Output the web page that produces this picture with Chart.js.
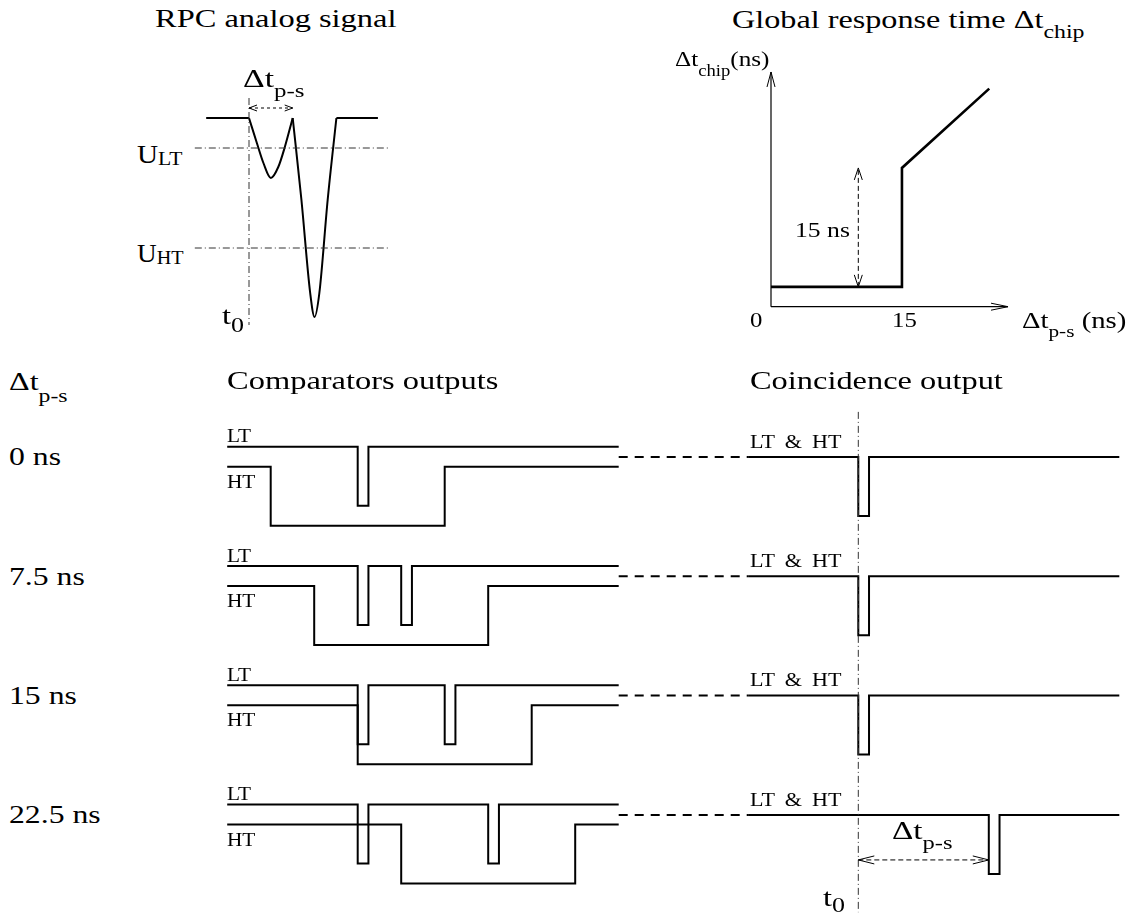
<!DOCTYPE html>
<html lang="en">
<head>
<meta charset="UTF-8">
<title>RPC comparator timing</title>
<script src="https://cdn.jsdelivr.net/npm/chart.js"></script>
<style>
    body { margin: 0; background: #fff; }
    #page { position: relative; width: 1140px; height: 914px; overflow: hidden; background: #fff; }
    #page canvas { position: absolute; }
    .lbl {
        position: absolute;
        white-space: nowrap;
        line-height: 1;
        transform-origin: 0 0;
        font-family: 'Liberation Serif', 'Times New Roman', serif;
        color: #000;
    }
    .lbl .s { font-size: 0.74em; position: relative; }
</style>
</head>
<body>
<div id="page">
    <canvas id="analog" width="220" height="290" style="left:185px; top:55px"></canvas>
    <canvas id="response" width="300" height="270" style="left:735px; top:55px"></canvas>
    <canvas id="timing" width="940" height="514" style="left:200px; top:400px"></canvas>
</div>

<script>
// ---- RPC analog signal (time in ns from t0, amplitude in a.u., pulses negative)
const baselineLeft = [-9.8, 0];
const baselineRight = [20, 29.5];
const primaryT = [0, 1.8, 3.3, 5, 6.7, 8.2, 10];
const primaryAmp = [0, -25, -45, -60, -49, -29, 0];
const secondaryT = [10, 12, 14, 15, 16.1, 18, 20];
const secondaryAmp = [0, -82, -175, -199, -175, -82, 0];
const thresholdLT = -30;
const thresholdHT = -130;
const thresholdSpan = [-12.4, 32.3];
const analogDeltaPS = 10;

// ---- global response time
const respDtPS = [0, 15, 15, 25];
const respDtChip = [2.5, 2.5, 17.5, 27.5];
const respTicks = [0, 15];
const respAxisMax = { x: 27.15, y: 29.6 };
const respStepAt = 10;

// ---- comparator / coincidence outputs, one row per primary-secondary delay
const delayValues = [0, 7.5, 15, 22.5];
const delayLabels = ['0 ns', '7.5 ns', '15 ns', '22.5 ns'];
const ltPulseStarts = [[0], [0, 7.5], [0, 15], [0, 22.5]];
const htLowWindows = [[-15, 15], [-7.5, 22.5], [0, 30], [7.5, 37.5]];
const coincPulseStarts = [[0], [0], [0], [22.5]];
const pulseWidth = 1.85;
const compWindow = [-22.5, 45];
const coincWindow = [-19, 45];

// layout of the bottom panel (in logic-swing units)
const ROW_PITCH = 2.022;
const HT_DROP = 0.339;
const COINC_DROP = 0.175;
const COINC_SHIFT = 86.31;
const DASHDOT = [7, 3, 1, 3];

const page = document.getElementById('page');

// open arrow heads at the ends of marked datasets
const arrowHeads = {
    id: 'arrowHeads',
    afterDatasetsDraw(chart) {
        const ctx = chart.ctx;
        chart.data.datasets.forEach((ds, i) => {
            if (!ds.heads) return;
            const pts = chart.getDatasetMeta(i).data;
            const n = pts.length;
            const L = ds.headLength || 10, W = ds.headWidth || 4;
            const draw = (tip, from) => {
                const dx = tip.x - from.x, dy = tip.y - from.y;
                const len = Math.hypot(dx, dy) || 1;
                const ux = dx / len, uy = dy / len;
                ctx.beginPath();
                ctx.moveTo(tip.x - ux * L - uy * W, tip.y - uy * L + ux * W);
                ctx.lineTo(tip.x, tip.y);
                ctx.lineTo(tip.x - ux * L + uy * W, tip.y - uy * L - ux * W);
                ctx.stroke();
            };
            ctx.save();
            ctx.strokeStyle = '#000';
            ctx.lineWidth = 1;
            ctx.setLineDash([]);
            if (ds.heads.includes('start')) draw(pts[0], pts[1]);
            if (ds.heads.includes('end')) draw(pts[n - 1], pts[n - 2]);
            ctx.restore();
        });
    }
};

function pts(xs, ys) {
    return xs.map((x, i) => ({ x: x, y: ys[i] }));
}

function line(data, extra) {
    return Object.assign({
        data: data,
        showLine: true,
        borderColor: '#000',
        borderWidth: 2,
        pointRadius: 0,
        tension: 0,
        fill: false,
        borderJoinStyle: 'miter',
        borderCapStyle: 'butt'
    }, extra || {});
}

function squareWave(span, lows, high, low) {
    const out = [{ x: span[0], y: high }];
    lows.forEach(w => {
        out.push({ x: w[0], y: high }, { x: w[0], y: low }, { x: w[1], y: low }, { x: w[1], y: high });
    });
    out.push({ x: span[1], y: high });
    return out;
}

// scale range so that value 0 sits at originPx inside a canvas of sizePx
function range(originPx, pxPerUnit, sizePx, up) {
    if (up) return { min: -(sizePx - originPx) / pxPerUnit, max: originPx / pxPerUnit };
    return { min: -originPx / pxPerUnit, max: (sizePx - originPx) / pxPerUnit };
}

function makeChart(id, datasets, xr, yr) {
    return new Chart(document.getElementById(id), {
        type: 'scatter',
        data: { datasets: datasets },
        options: {
            responsive: false,
            animation: false,
            devicePixelRatio: 1,
            layout: { padding: 0 },
            plugins: { legend: { display: false }, tooltip: { enabled: false } },
            scales: {
                x: { type: 'linear', display: false, min: xr.min, max: xr.max },
                y: { type: 'linear', display: false, min: yr.min, max: yr.max }
            }
        },
        plugins: [arrowHeads]
    });
}

function sub(text, dy, size) {
    return '<span class="s" style="top:' + dy + 'px' + (size ? ';font-size:' + size + 'em' : '') + '">' + text + '</span>';
}

function label(html, x, base, size, opt) {
    opt = opt || {};
    const el = document.createElement('div');
    el.className = 'lbl';
    el.innerHTML = html;
    el.style.fontSize = size + 'px';
    if (opt.spacing) el.style.wordSpacing = opt.spacing + 'px';
    el.style.left = x + 'px';
    el.style.top = (base - 0.8375 * size) + 'px';
    page.appendChild(el);
    let sx = opt.sx || 1.22;
    if (opt.width) sx = opt.width / el.offsetWidth;
    if (opt.center) el.style.left = (x - el.offsetWidth * sx / 2) + 'px';
    el.style.transform = 'scaleX(' + sx + ')';
    return el;
}

// ---------- analog signal
makeChart('analog', [
    line(pts(thresholdSpan, [thresholdLT, thresholdLT]), { borderWidth: 1, borderColor: '#333', borderDash: DASHDOT }),
    line(pts(thresholdSpan, [thresholdHT, thresholdHT]), { borderWidth: 1, borderColor: '#333', borderDash: DASHDOT }),
    line(pts([0, 0], [20, -207]), { borderWidth: 1, borderColor: '#333', borderDash: DASHDOT }),
    line(pts(baselineLeft, [0, 0])),
    line(pts(primaryT, primaryAmp), { cubicInterpolationMode: 'monotone' }),
    line(pts(secondaryT, secondaryAmp), { cubicInterpolationMode: 'monotone' }),
    line(pts(baselineRight, [0, 0])),
    line(pts([0, analogDeltaPS], [10, 10]), { borderWidth: 1, borderDash: [3, 3], heads: ['start', 'end'], headLength: 8, headWidth: 3 })
], range(64, 4.37, 220), range(63, 1, 290, true));

// ---------- response time
const resp = makeChart('response', [
    line(pts([0, 0], [0, respAxisMax.y]), { borderWidth: 1.2, heads: ['end'], headLength: 15, headWidth: 4 }),
    line(pts([0, respAxisMax.x], [0, 0]), { borderWidth: 1.2, heads: ['end'], headLength: 17, headWidth: 3.5 }),
    line(pts(respDtPS, respDtChip), { borderWidth: 2.6 }),
    line(pts([respStepAt, respStepAt], [respDtChip[1], respDtChip[2]]), { borderWidth: 1, borderDash: [5, 3], heads: ['start', 'end'], headLength: 12, headWidth: 4 })
], range(36, 8.73, 300), range(251.7, 7.93, 270, true));

respTicks.forEach((v, i) => {
    const px = 735 + resp.scales.x.getPixelForValue(v);
    label(String(v), px + (i === 0 ? -15 : 2), 328, 21, { sx: 1.18, center: true });
});

// ---------- comparators and coincidence
const timingSets = [];
timingSets.push(line(pts([COINC_SHIFT, COINC_SHIFT], [0.59, -7.89]), { borderWidth: 1, borderColor: '#333', borderDash: DASHDOT }));

delayValues.forEach((d, r) => {
    const ltHigh = -r * ROW_PITCH;
    const htHigh = ltHigh - HT_DROP;
    const coHigh = ltHigh - COINC_DROP;
    const ltLows = ltPulseStarts[r].map(s => [s, s + pulseWidth]);
    const coLows = coincPulseStarts[r].map(s => [s + COINC_SHIFT, s + COINC_SHIFT + pulseWidth]);
    timingSets.push(line(squareWave(compWindow, ltLows, ltHigh, ltHigh - 1)));
    timingSets.push(line(squareWave(compWindow, [htLowWindows[r]], htHigh, htHigh - 1)));
    timingSets.push(line([{ x: compWindow[1], y: coHigh }, { x: coincWindow[0] + COINC_SHIFT, y: coHigh }], { borderDash: [9, 7] }));
    timingSets.push(line(squareWave(coincWindow.map(t => t + COINC_SHIFT), coLows, coHigh, coHigh - 1)));
});

// delay of the last row shown as an arrow from t0
const lastRow = delayValues.length - 1;
const arrowY = -lastRow * ROW_PITCH - COINC_DROP - 0.763;
timingSets.push(line(pts([COINC_SHIFT, COINC_SHIFT + delayValues[lastRow]], [arrowY, arrowY]),
    { borderWidth: 1, borderDash: [5, 3], heads: ['start', 'end'], headLength: 16, headWidth: 4 }));

const timing = makeChart('timing', timingSets, range(157.7, 5.8, 940), range(46.7, 59, 514, true));

function timingY(v) { return 400 + timing.scales.y.getPixelForValue(v); }

delayValues.forEach((d, r) => {
    const ltY = timingY(-r * ROW_PITCH);
    const htY = timingY(-r * ROW_PITCH - HT_DROP);
    const coY = timingY(-r * ROW_PITCH - COINC_DROP);
    label(delayLabels[r], 9, ltY + 19.5, 26);
    label('LT', 226.7, ltY - 4.4, 19, { sx: 1.12 });
    label('HT', 226.7, htY + 21, 19, { sx: 1.12 });
    label('LT &amp; HT', 750, coY - 9.3, 19, { width: 91.7, spacing: 4 });
});

// ---------- titles and annotations
label('RPC analog signal', 155, 27.5, 26, { width: 242 });
label('Global response time &Delta;t' + sub('chip', 10), 731.7, 28.3, 26, { width: 353 });
label('&Delta;t' + sub('chip', 10) + '(ns)', 675, 66.7, 22, { width: 95 });
label('&Delta;t' + sub('p-s', 9) + ' (ns)', 1021.7, 328, 23, { width: 105 });
label('15 ns', 795, 238, 21, { width: 55 });

label('&Delta;t' + sub('p-s', 10), 243, 86.7, 25, { width: 62 });
label('U' + sub('LT', 2), 137, 163.3, 26, { width: 46 });
label('U' + sub('HT', 2), 137, 263, 26, { width: 46 });
label('t' + sub('0', 8, 0.8), 221.7, 325, 26, { sx: 1.25 });

label('&Delta;t' + sub('p-s', 12), 9, 390.6, 26, { width: 58 });
label('Comparators outputs', 226.5, 390, 26, { width: 271 });
label('Coincidence output', 749.8, 390, 26, { width: 253 });
label('&Delta;t' + sub('p-s', 10), 891.7, 840, 26, { width: 60 });
label('t' + sub('0', 6, 0.8), 823.3, 907, 26, { sx: 1.25 });
</script>
</body>
</html>
